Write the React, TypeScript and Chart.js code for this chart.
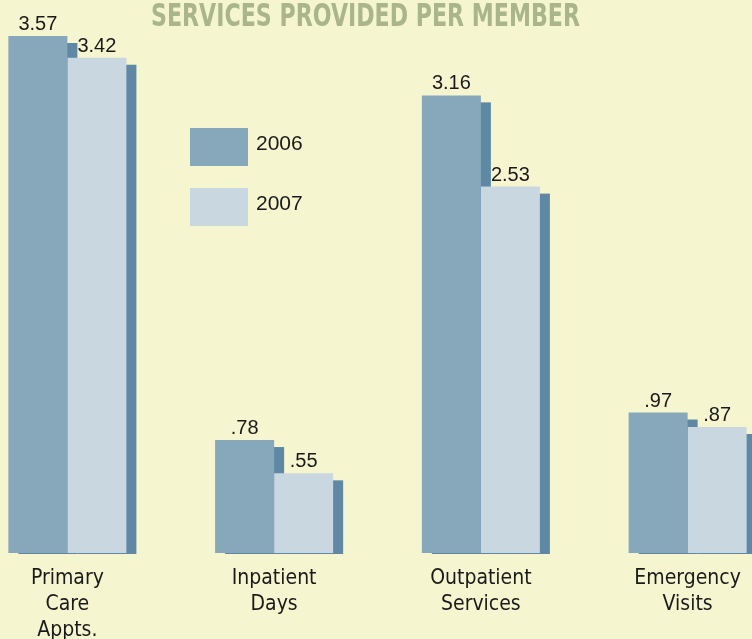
import React, { useEffect, useRef } from "react";
import { Chart, registerables } from "chart.js";

Chart.register(...registerables);

const categories: string[][] = [
  ["Primary", "Care", "Appts."],
  ["Inpatient", "Days"],
  ["Outpatient", "Services"],
  ["Emergency", "Visits"],
];
const series2006: number[] = [3.57, 0.78, 3.16, 0.97];
const series2007: number[] = [3.42, 0.55, 2.53, 0.87];
const valueLabels2006: string[] = ["3.57", ".78", "3.16", ".97"];
const valueLabels2007: string[] = ["3.42", ".55", "2.53", ".87"];
const seriesNames: string[] = ["2006", "2007"];
const titleText = "SERVICES PROVIDED PER MEMBER";

const BG = "#f5f6d0";
const C2006 = "#87a7bb";
const C2007 = "#c8d7e0";
const SHADOW = "#5e88a4";
const COND = "'DejaVu Sans Condensed', 'Liberation Sans Narrow', Arial, sans-serif";
const SANS = "'Liberation Sans', Arial, sans-serif";

const CANVAS_LEFT = -36;
const CANVAS_W = 827;
const CANVAS_H = 639;

const customPlugin = {
  id: "custom",
  beforeDatasetsDraw(chart: any) {
    const ctx = chart.ctx;
    ctx.save();
    ctx.fillStyle = SHADOW;
    chart.data.datasets.forEach((_: any, di: number) => {
      const meta = chart.getDatasetMeta(di);
      meta.data.forEach((el: any) => {
        const w = el.width;
        const left = el.x - w / 2 + 10;
        const top = el.y + 7;
        ctx.fillRect(left, top, w, el.base - top + 1);
      });
    });
    ctx.restore();
  },
  afterDraw(chart: any) {
    const ctx = chart.ctx;
    ctx.save();
    // value labels
    ctx.fillStyle = "#1a1a1a";
    ctx.font = `20px ${SANS}`;
    ctx.textAlign = "center";
    ctx.textBaseline = "alphabetic";
    const labelSets = [valueLabels2006, valueLabels2007];
    chart.data.datasets.forEach((_: any, di: number) => {
      const meta = chart.getDatasetMeta(di);
      meta.data.forEach((el: any, i: number) => {
        ctx.fillText(labelSets[di][i], el.x, el.y - 6);
      });
    });
    // title (horizontally condensed to match the heavy condensed face)
    ctx.fillStyle = "#aab58b";
    ctx.font = `bold 32px 'DejaVu Sans', sans-serif`;
    ctx.textAlign = "center";
    ctx.textBaseline = "alphabetic";
    const tw = ctx.measureText(titleText).width;
    const sx = 429 / tw;
    ctx.save();
    ctx.translate(365.5 - CANVAS_LEFT, 26);
    ctx.scale(sx, 1);
    ctx.fillText(titleText, 0, 0);
    ctx.restore();
    // legend
    const colors = [C2006, C2007];
    ctx.font = `21px ${SANS}`;
    ctx.textAlign = "left";
    ctx.textBaseline = "middle";
    seriesNames.forEach((name, i) => {
      const bx = 190 - CANVAS_LEFT;
      const by = 128 + i * 60;
      ctx.fillStyle = colors[i];
      ctx.fillRect(bx, by, 58, 38);
      ctx.fillStyle = "#1a1a1a";
      ctx.fillText(name, bx + 66, by + 16);
    });
    ctx.restore();
  },
};

export default function App() {
  const ref = useRef<HTMLCanvasElement | null>(null);
  useEffect(() => {
    document.body.style.margin = "0";
    const canvas = ref.current;
    if (!canvas) return;
    const chart = new Chart(canvas, {
      type: "bar",
      data: {
        labels: categories,
        datasets: [
          {
            label: seriesNames[0],
            data: series2006,
            backgroundColor: C2006,
            borderWidth: 0,
            barPercentage: 1,
            categoryPercentage: 0.571,
          },
          {
            label: seriesNames[1],
            data: series2007,
            backgroundColor: C2007,
            borderWidth: 0,
            barPercentage: 1,
            categoryPercentage: 0.571,
          },
        ],
      },
      options: {
        animation: false,
        responsive: false,
        maintainAspectRatio: false,
        layout: { padding: { top: 36, left: 0, right: 0, bottom: 0 } },
        plugins: {
          legend: { display: false },
          tooltip: { enabled: false },
          title: { display: false },
        },
        scales: {
          x: {
            grid: { display: false, drawTicks: false },
            border: { display: false },
            ticks: {
              color: "#1a1a1a",
              font: { family: COND, size: 21, lineHeight: 1.22 },
              padding: 13,
              maxRotation: 0,
              autoSkip: false,
            },
            afterFit: (s: any) => {
              s.height = 86;
            },
          },
          y: {
            display: false,
            min: 0,
            max: 3.57,
          },
        },
      },
      plugins: [customPlugin],
    });
    return () => chart.destroy();
  }, []);
  return (
    <div
      style={{
        position: "relative",
        width: 752,
        height: 639,
        overflow: "hidden",
        background: BG,
      }}
    >
      <canvas
        ref={ref}
        width={CANVAS_W}
        height={CANVAS_H}
        style={{
          position: "absolute",
          left: CANVAS_LEFT,
          top: 0,
          width: CANVAS_W,
          height: CANVAS_H,
        }}
      />
    </div>
  );
}
